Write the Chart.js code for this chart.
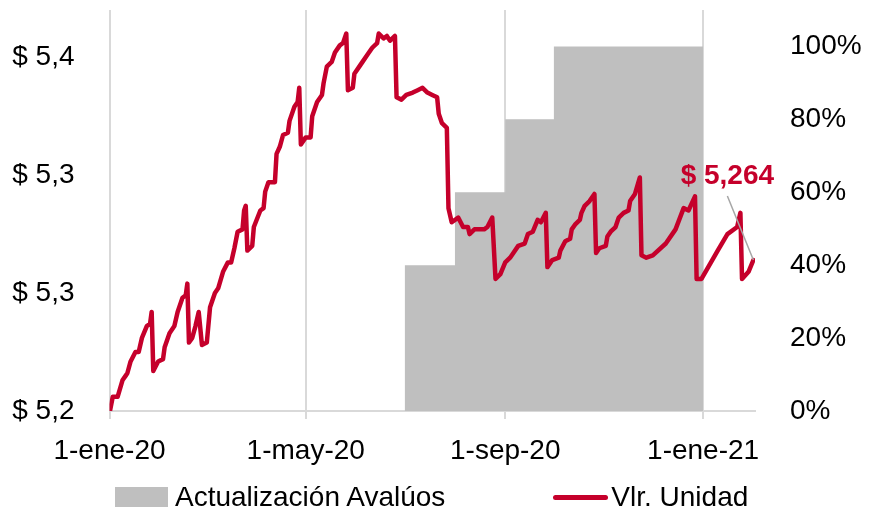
<!DOCTYPE html>
<html>
<head>
<meta charset="utf-8">
<script src="https://cdn.jsdelivr.net/npm/chart.js@4"></script>
<style>
  body { margin: 0; background: #fff; }
  #marco { position: relative; width: 870px; height: 511px; }
  #leyenda {
    position: absolute; left: 115px; top: 480px; height: 34px;
    display: flex; align-items: center;
    font: 28px "Liberation Sans", Arial, sans-serif; color: #000;
  }
  .item { display: flex; align-items: center; white-space: nowrap; }
  .item + .item { margin-left: 108px; }
  .caja { display: inline-block; width: 53px; height: 20px; margin-right: 7px; }
  .linea { display: inline-block; width: 55px; height: 5px; border-radius: 3px; margin-right: 3px; }
</style>
</head>
<body>
<div id="marco">
  <canvas id="grafico" width="870" height="511"></canvas>
  <div id="leyenda"></div>
</div>
<script>
// Vlr. Unidad (eje izquierdo)
const fechas = [
  '2020-01-01','2020-01-03','2020-01-06','2020-01-09','2020-01-11','2020-01-12','2020-01-14','2020-01-17','2020-01-19','2020-01-21',
  '2020-01-24','2020-01-26','2020-01-27','2020-01-28','2020-01-31','2020-02-03','2020-02-04','2020-02-07','2020-02-10','2020-02-12',
  '2020-02-15','2020-02-17','2020-02-18','2020-02-19','2020-02-21','2020-02-23','2020-02-25','2020-02-27','2020-03-01','2020-03-03',
  '2020-03-06','2020-03-08','2020-03-11','2020-03-14','2020-03-16','2020-03-18','2020-03-20','2020-03-23','2020-03-24','2020-03-25',
  '2020-03-26','2020-03-29','2020-03-30','2020-04-03','2020-04-05','2020-04-06','2020-04-08','2020-04-12','2020-04-13','2020-04-15',
  '2020-04-17','2020-04-20','2020-04-21','2020-04-24','2020-04-26','2020-04-27','2020-04-28','2020-05-01','2020-05-04','2020-05-05',
  '2020-05-08','2020-05-11','2020-05-12','2020-05-14','2020-05-17','2020-05-19','2020-05-22','2020-05-24','2020-05-26','2020-05-27',
  '2020-05-30','2020-05-31','2020-06-03','2020-06-05','2020-06-08','2020-06-11','2020-06-14','2020-06-15','2020-06-18','2020-06-20',
  '2020-06-22','2020-06-25','2020-06-26','2020-06-29','2020-07-02','2020-07-06','2020-07-09','2020-07-12','2020-07-15','2020-07-18',
  '2020-07-21','2020-07-22','2020-07-24','2020-07-27','2020-07-28','2020-07-30','2020-08-03','2020-08-06','2020-08-09','2020-08-10',
  '2020-08-13','2020-08-19','2020-08-21','2020-08-24','2020-08-26','2020-08-29','2020-09-01','2020-09-04','2020-09-06','2020-09-09',
  '2020-09-13','2020-09-15','2020-09-18','2020-09-21','2020-09-23','2020-09-26','2020-09-27','2020-09-30','2020-10-04','2020-10-05',
  '2020-10-08','2020-10-11','2020-10-12','2020-10-14','2020-10-17','2020-10-18','2020-10-20','2020-10-23','2020-10-26','2020-10-27',
  '2020-10-29','2020-11-02','2020-11-03','2020-11-05','2020-11-08','2020-11-10','2020-11-13','2020-11-16','2020-11-17','2020-11-20',
  '2020-11-23','2020-11-24','2020-11-27','2020-12-01','2020-12-09','2020-12-15','2020-12-20','2020-12-23','2020-12-27','2020-12-28',
  '2020-12-31','2021-01-10','2021-01-16','2021-01-22','2021-01-24','2021-01-25','2021-01-29','2021-02-01'
];
const valores = [
  5.199,5.206,5.206,5.213,5.215,5.216,5.221,5.225,5.225,5.231,
  5.236,5.237,5.242,5.217,5.221,5.222,5.227,5.233,5.236,5.242,
  5.248,5.249,5.254,5.229,5.231,5.236,5.242,5.228,5.229,5.244,
  5.250,5.252,5.259,5.263,5.263,5.269,5.276,5.277,5.285,5.287,
  5.268,5.270,5.278,5.285,5.286,5.293,5.297,5.297,5.309,5.312,
  5.317,5.318,5.323,5.329,5.331,5.337,5.313,5.316,5.316,5.325,
  5.331,5.334,5.339,5.346,5.348,5.352,5.355,5.356,5.360,5.336,
  5.337,5.343,5.346,5.348,5.351,5.354,5.356,5.360,5.358,5.359,
  5.357,5.359,5.333,5.332,5.334,5.335,5.336,5.337,5.335,5.334,
  5.333,5.326,5.322,5.320,5.286,5.280,5.282,5.278,5.278,5.275,
  5.277,5.277,5.278,5.282,5.256,5.258,5.263,5.265,5.267,5.270,
  5.271,5.275,5.276,5.281,5.280,5.284,5.261,5.264,5.265,5.268,
  5.272,5.273,5.277,5.279,5.281,5.284,5.287,5.289,5.292,5.267,
  5.269,5.270,5.274,5.276,5.278,5.282,5.284,5.285,5.289,5.292,
  5.299,5.266,5.265,5.266,5.271,5.277,5.286,5.285,5.291,5.256,
  5.256,5.268,5.275,5.278,5.284,5.256,5.259,5.264
];

// Actualización Avalúos (eje derecho, %)
const fechasAvaluo = ['2020-07-01','2020-08-01','2020-09-01','2020-10-01','2021-01-01'];
const pctAvaluo = [40, 60, 80, 100, 100];

// ejes
const ticksFechas = ['2020-01-01','2020-05-01','2020-09-01','2021-01-01'];
const ticksEtiquetas = ['1-ene-20','1-may-20','1-sep-20','1-ene-21'];
const ticksValor = [5.20, 5.25, 5.30, 5.35];
const ticksValorEtiquetas = ['$ 5,2','$ 5,3','$ 5,3','$ 5,4'];
const ticksPct = [0, 20, 40, 60, 80, 100];
const fechaFin = '2021-02-02';

const rojo = '#c5002b';
const gris = '#bfbfbf';
const fuente = '"Liberation Sans", Arial, sans-serif';

function dia(f) {
  return (Date.parse(f) - Date.parse('2020-01-01')) / 86400000;
}

function sinPadding(s) {
  s.paddingTop = 0;
  s.paddingBottom = 0;
  s.paddingLeft = 0;
  s.paddingRight = 0;
}

Chart.defaults.font.family = fuente;
Chart.defaults.font.size = 28;
Chart.defaults.color = '#000';

const etiquetaFinal = {
  id: 'etiquetaFinal',
  afterDatasetsDraw(chart) {
    const meta = chart.getDatasetMeta(1);
    const p = meta.data[meta.data.length - 1];
    const c = chart.ctx;
    c.save();
    c.strokeStyle = '#a6a6a6';
    c.lineWidth = 1.5;
    c.beginPath();
    c.moveTo(p.x - 26, p.y - 64);
    c.lineTo(p.x, p.y);
    c.stroke();
    c.fillStyle = rojo;
    c.font = 'bold 28px ' + fuente;
    c.textAlign = 'center';
    c.textBaseline = 'middle';
    c.fillText('$ ' + valores[valores.length - 1].toFixed(3).replace('.', ','), p.x - 26, p.y - 84);
    c.restore();
  }
};

const ctx = document.getElementById('grafico').getContext('2d');
const grafico = new Chart(ctx, {
  type: 'line',
  data: {
    datasets: [{
      label: 'Actualización Avalúos',
      data: fechasAvaluo.map((f, i) => ({ x: dia(f), y: pctAvaluo[i] })),
      yAxisID: 'y1',
      stepped: true,
      fill: 'origin',
      backgroundColor: gris,
      borderColor: gris,
      borderWidth: 0,
      pointRadius: 0,
      order: 2
    }, {
      label: 'Vlr. Unidad',
      data: fechas.map((f, i) => ({ x: dia(f), y: valores[i] })),
      yAxisID: 'y',
      borderColor: rojo,
      backgroundColor: rojo,
      borderWidth: 4.5,
      borderJoinStyle: 'round',
      borderCapStyle: 'round',
      pointRadius: 0,
      tension: 0,
      fill: false,
      order: 1
    }]
  },
  options: {
    responsive: false,
    animation: false,
    layout: { padding: { top: 10, left: 0, right: 0, bottom: 0 } },
    plugins: { legend: { display: false }, tooltip: { enabled: false } },
    scales: {
      x: {
        type: 'linear',
        min: 0,
        max: dia(fechaFin),
        afterBuildTicks: s => { s.ticks = ticksFechas.map(f => ({ value: dia(f) })); },
        afterFit: s => { s.height = 100; sinPadding(s); },
        ticks: { padding: 15, maxRotation: 0, autoSkip: false, callback: (v, i) => ticksEtiquetas[i] },
        grid: { color: '#d9d9d9', lineWidth: 2, tickLength: 8 },
        border: { color: '#d9d9d9', width: 2 }
      },
      y: {
        position: 'left',
        min: 5.2,
        max: 5.37,
        afterBuildTicks: s => { s.ticks = ticksValor.map(v => ({ value: v })); },
        afterFit: s => { s.width = 109.5; sinPadding(s); },
        ticks: { padding: 27, callback: (v, i) => ticksValorEtiquetas[i] },
        grid: { display: false },
        border: { display: false }
      },
      y1: {
        position: 'right',
        min: 0,
        max: 110,
        afterBuildTicks: s => { s.ticks = ticksPct.map(v => ({ value: v })); },
        afterFit: s => { s.width = 115; sinPadding(s); },
        ticks: { padding: 27, callback: v => v + '%' },
        grid: { display: false },
        border: { display: false }
      }
    }
  },
  plugins: [etiquetaFinal]
});

const leyenda = document.getElementById('leyenda');
grafico.data.datasets.forEach((ds, i) => {
  const item = document.createElement('div');
  item.className = 'item';
  const marca = document.createElement('span');
  marca.className = i === 0 ? 'caja' : 'linea';
  marca.style.background = i === 0 ? ds.backgroundColor : ds.borderColor;
  const txt = document.createElement('span');
  txt.textContent = ds.label;
  item.appendChild(marca);
  item.appendChild(txt);
  leyenda.appendChild(item);
});
</script>
</body>
</html>
